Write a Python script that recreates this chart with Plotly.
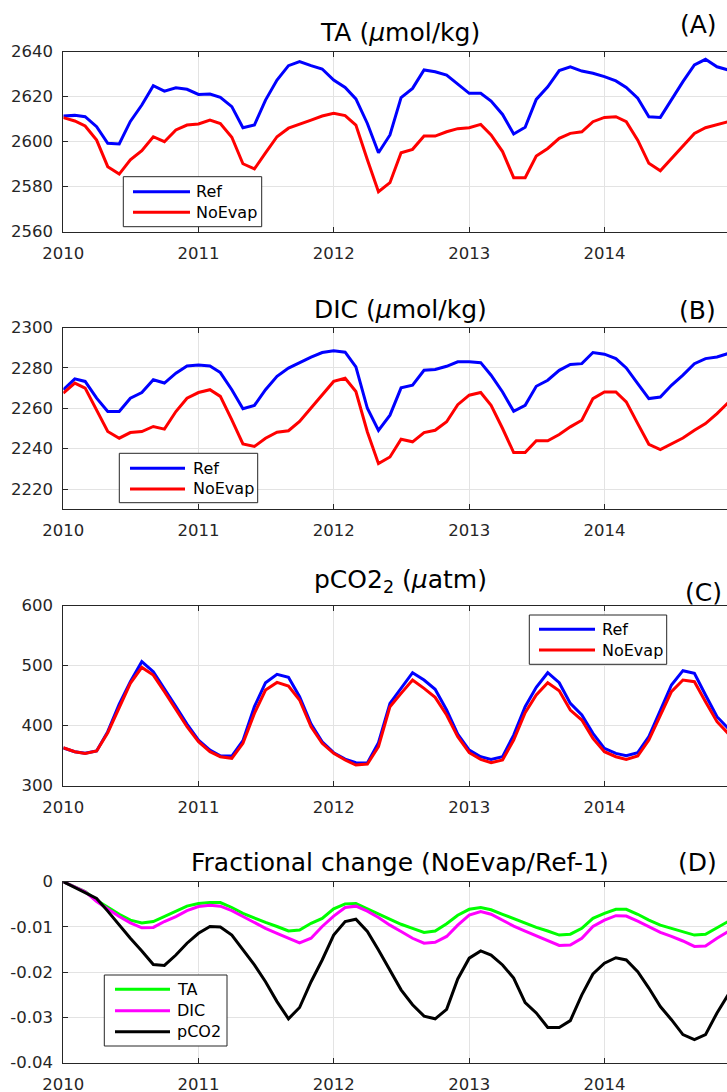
import pandas as pd
import plotly.graph_objects as go

W, H = 727, 1092

# Monthly time axis, Jan 2010 onwards
months = pd.date_range("2010-01-01", periods=60, freq="MS")
tick_labels = ["2010", "2011", "2012", "2013", "2014"]
tick_dates = [f"{y}-01-01" for y in tick_labels]

# (A) total alkalinity, umol/kg
ta_ref = [2611.4, 2611.7, 2611.1, 2606.7, 2599.3, 2599.0, 2609.0, 2616.3, 2624.9, 2622.5,
          2624.0, 2623.3, 2621.0, 2621.2, 2619.7, 2615.6, 2606.2, 2607.4, 2618.5, 2627.4,
          2633.8, 2635.6, 2633.8, 2632.3, 2627.4, 2624.1, 2619.0, 2608.1, 2595.1, 2603.0,
          2619.6, 2623.7, 2631.9, 2631.1, 2629.6, 2625.5, 2621.5, 2621.5, 2618.1, 2612.1,
          2603.4, 2606.4, 2618.8, 2624.4, 2631.6, 2633.3, 2631.4, 2630.4, 2628.9, 2627.0,
          2624.1, 2619.3, 2611.1, 2610.8, 2618.8, 2626.7, 2634.1, 2636.6, 2633.3, 2631.9]
ta_noevap = [2610.7, 2609.2, 2607.0, 2600.7, 2588.9, 2585.6, 2591.9, 2596.0, 2602.2, 2600.0,
             2605.2, 2607.4, 2607.9, 2609.6, 2608.1, 2602.0, 2590.2, 2587.9, 2595.0, 2602.2,
             2606.0, 2607.9, 2609.6, 2611.4, 2612.6, 2611.6, 2607.4, 2592.0, 2577.8, 2581.8,
             2595.1, 2596.6, 2602.5, 2602.5, 2604.4, 2605.8, 2606.2, 2607.7, 2603.0, 2595.6,
             2584.0, 2584.0, 2593.6, 2597.0, 2601.5, 2603.7, 2604.4, 2608.9, 2610.8, 2611.1,
             2608.9, 2600.7, 2590.4, 2587.1, 2592.6, 2598.5, 2603.7, 2606.2, 2607.4, 2608.9]

# (B) dissolved inorganic carbon, umol/kg
dic_ref = [2269.2, 2274.6, 2273.3, 2265.0, 2258.4, 2258.4, 2265.0, 2267.8, 2274.1, 2272.5,
           2277.4, 2281.0, 2281.4, 2281.0, 2277.7, 2269.2, 2259.8, 2261.4, 2269.2, 2275.8,
           2279.9, 2282.7, 2285.3, 2287.6, 2288.5, 2287.8, 2280.5, 2260.0, 2249.1, 2256.6,
           2270.1, 2271.4, 2278.8, 2279.2, 2280.8, 2283.0, 2283.0, 2282.6, 2276.4, 2268.1,
           2258.5, 2261.5, 2270.9, 2273.9, 2278.8, 2281.7, 2282.1, 2287.6, 2286.8, 2284.6,
           2280.0, 2272.2, 2264.8, 2265.6, 2271.4, 2276.4, 2282.1, 2284.6, 2285.4, 2287.1]
dic_noevap = [2267.5, 2272.5, 2270.0, 2259.3, 2248.5, 2245.2, 2248.0, 2248.5, 2251.0, 2249.7,
              2258.4, 2265.0, 2267.8, 2269.2, 2265.9, 2254.3, 2242.4, 2241.1, 2245.2, 2248.2,
              2248.9, 2253.5, 2260.1, 2266.7, 2273.3, 2274.9, 2268.3, 2248.3, 2232.6, 2235.9,
              2244.7, 2243.4, 2248.0, 2249.1, 2253.3, 2261.8, 2266.5, 2267.8, 2261.5, 2250.0,
              2238.1, 2238.1, 2243.9, 2243.9, 2247.0, 2250.8, 2254.1, 2264.8, 2268.1, 2268.1,
              2263.2, 2252.4, 2242.2, 2239.6, 2242.5, 2245.3, 2249.1, 2252.4, 2257.4, 2262.8]

# (C) pCO2, uatm
pco2_ref = [363.0, 356.7, 354.0, 358.0, 390.0, 436.0, 473.3, 506.7, 490.0, 462.2,
            431.7, 402.8, 376.0, 359.4, 350.0, 349.4, 375.0, 431.7, 471.7, 485.6,
            480.6, 448.3, 402.8, 373.3, 355.0, 344.4, 338.3, 338.0, 371.7, 437.2,
            462.2, 488.3, 476.1, 460.6, 426.1, 386.1, 359.4, 348.3, 343.9, 348.3,
            384.4, 431.7, 463.9, 488.3, 471.7, 437.2, 417.8, 387.2, 362.2, 353.9,
            350.0, 355.0, 381.7, 426.1, 467.8, 491.7, 487.2, 451.1, 415.0, 395.6]
pco2_noevap = [363.3, 356.7, 353.9, 357.8, 388.3, 431.7, 470.6, 497.2, 484.4, 456.7,
               426.1, 398.3, 373.3, 356.7, 348.3, 345.6, 370.6, 420.6, 459.4, 472.2,
               466.1, 442.8, 398.3, 370.6, 353.9, 342.8, 334.4, 336.0, 365.0, 431.7,
               453.9, 476.1, 462.2, 447.2, 417.8, 381.7, 355.0, 343.9, 338.3, 342.8,
               376.1, 421.7, 451.1, 471.7, 458.3, 426.1, 409.4, 378.9, 356.7, 348.3,
               343.9, 349.4, 376.1, 417.8, 456.7, 476.1, 473.3, 440.0, 406.7, 387.2]

# (D) fractional change NoEvap/Ref - 1
frac_ta = [0.0, -0.0011, -0.0022, -0.0041, -0.0057, -0.0072, -0.0085, -0.0091, -0.0088, -0.0077,
           -0.0066, -0.0054, -0.0048, -0.0046, -0.0046, -0.0057, -0.0070, -0.0081, -0.0090, -0.0099,
           -0.0109, -0.0107, -0.0092, -0.0081, -0.0060, -0.0049, -0.0048, -0.0060, -0.0071, -0.0083,
           -0.0094, -0.0103, -0.0112, -0.0109, -0.0093, -0.0074, -0.0061, -0.0057, -0.0062, -0.0072,
           -0.0082, -0.0092, -0.0101, -0.0109, -0.0118, -0.0116, -0.0103, -0.0081, -0.0070, -0.0061,
           -0.0061, -0.0072, -0.0085, -0.0096, -0.0103, -0.0110, -0.0118, -0.0116, -0.0101, -0.0088]
frac_dic = [0.0, -0.0011, -0.0022, -0.0044, -0.0061, -0.0077, -0.0091, -0.0102, -0.0101, -0.0088,
            -0.0077, -0.0064, -0.0055, -0.0052, -0.0054, -0.0064, -0.0077, -0.0091, -0.0103, -0.0114,
            -0.0125, -0.0135, -0.0125, -0.0099, -0.0076, -0.0057, -0.0054, -0.0065, -0.0079, -0.0096,
            -0.0110, -0.0125, -0.0136, -0.0134, -0.0121, -0.0096, -0.0074, -0.0066, -0.0072, -0.0085,
            -0.0098, -0.0109, -0.0120, -0.0130, -0.0141, -0.0140, -0.0125, -0.0099, -0.0085, -0.0075,
            -0.0076, -0.0087, -0.0099, -0.0112, -0.0121, -0.0131, -0.0143, -0.0142, -0.0125, -0.0110]
frac_pco2 = [0.0, -0.0013, -0.0024, -0.0037, -0.0065, -0.0096, -0.0125, -0.0153, -0.0183, -0.0185,
             -0.0162, -0.0136, -0.0114, -0.0099, -0.0100, -0.0118, -0.0151, -0.0184, -0.0221, -0.0265,
             -0.0303, -0.0278, -0.0221, -0.0173, -0.0118, -0.0088, -0.0083, -0.0110, -0.0151, -0.0195,
             -0.0239, -0.0272, -0.0297, -0.0303, -0.0282, -0.0215, -0.0169, -0.0153, -0.0162, -0.0184,
             -0.0213, -0.0267, -0.0290, -0.0322, -0.0322, -0.0307, -0.0250, -0.0204, -0.0180, -0.0168,
             -0.0173, -0.0199, -0.0235, -0.0276, -0.0305, -0.0338, -0.0349, -0.0338, -0.0290, -0.0250]

# y ticks per panel
ta_ticks = [2560, 2580, 2600, 2620, 2640]
dic_ticks = [2220, 2240, 2260, 2280, 2300]
pco2_ticks = [300, 400, 500, 600]
frac_ticks = [-0.04, -0.03, -0.02, -0.01, 0]
frac_tick_text = ["-0.04", "-0.03", "-0.02", "-0.01", "0"]

BLUE, RED = "#0000ff", "#ff0000"
GREEN, MAGENTA, BLACK = "#00ff00", "#ff00ff", "#000000"
AXC = "#262626"
GRID = "#e3e3e3"
FONT = "DejaVu Sans"
TICK_SIZE = 16.5


def fx(px):
    return px / W


def fy(py):
    return 1 - py / H


# panel frames in pixels: (top, bottom)
panels = [(51.7, 231.7), (327.5, 509.3), (605.7, 785.7), (881.7, 1062.7)]
x_left = 63.3

fig = go.Figure()

series = [
    (1, [(ta_ref, BLUE, "Ref"), (ta_noevap, RED, "NoEvap")]),
    (2, [(dic_ref, BLUE, "Ref"), (dic_noevap, RED, "NoEvap")]),
    (3, [(pco2_ref, BLUE, "Ref"), (pco2_noevap, RED, "NoEvap")]),
    (4, [(frac_ta, GREEN, "TA"), (frac_dic, MAGENTA, "DIC"), (frac_pco2, BLACK, "pCO2")]),
]
for k, lines in series:
    suffix = "" if k == 1 else str(k)
    for vals, col, name in lines:
        fig.add_trace(go.Scatter(
            x=months, y=vals, mode="lines", name=name,
            line=dict(color=col, width=3),
            xaxis="x" + suffix, yaxis="y" + suffix, showlegend=False,
        ))

xcommon = dict(
    type="date", range=["2010-01-01", "2014-11-28"],
    domain=[fx(x_left), 1],
    tickvals=tick_dates, ticktext=tick_labels,
    showgrid=True, gridcolor=GRID, gridwidth=1,
    showline=True, linecolor=AXC, linewidth=1, mirror="ticks",
    ticks="inside", ticklen=5, tickcolor=AXC, tickwidth=1,
    tickfont=dict(family=FONT, size=TICK_SIZE, color=AXC),
    ticklabelstandoff=6,
    zeroline=False, fixedrange=True, automargin=False,
)
ycommon = dict(
    showgrid=True, gridcolor=GRID, gridwidth=1,
    showline=True, linecolor=AXC, linewidth=1, mirror=False,
    ticks="inside", ticklen=5, tickcolor=AXC, tickwidth=1,
    tickfont=dict(family=FONT, size=TICK_SIZE, color=AXC),
    ticklabelstandoff=6,
    zeroline=False, fixedrange=True, automargin=False,
)
yspecs = [
    dict(range=[2560, 2640], tickvals=ta_ticks, ticktext=[str(v) for v in ta_ticks]),
    dict(range=[2210, 2300], tickvals=dic_ticks, ticktext=[str(v) for v in dic_ticks]),
    dict(range=[300, 600], tickvals=pco2_ticks, ticktext=[str(v) for v in pco2_ticks]),
    dict(range=[-0.04, 0], tickvals=frac_ticks, ticktext=frac_tick_text),
]

layout_axes = {}
for i, ((top, bot), ys) in enumerate(zip(panels, yspecs), start=1):
    suffix = "" if i == 1 else str(i)
    layout_axes["xaxis" + suffix] = dict(xcommon, anchor="y" + suffix)
    layout_axes["yaxis" + suffix] = dict(ycommon, anchor="x" + suffix,
                                         domain=[fy(bot), fy(top)], **ys)

annotations = []
shapes = []

# panel titles and letters
titles = [
    ("TA (<i>μ</i>mol/kg)", 32.0, "(A)", 719, 24.0),
    ("DIC (<i>μ</i>mol/kg)", 309.5, "(B)", 718, 310.0),
    ("pCO2<sub>2</sub> (<i>μ</i>atm)", 581.0, "(C)", 724, 592.0),
    ("Fractional change (NoEvap/Ref-1)", 862.5, "(D)", 719, 862.0),
]
for text, ty, letter, lx, ly in titles:
    annotations.append(dict(
        text=text, xref="paper", yref="paper", x=fx(400), y=fy(ty),
        xanchor="center", yanchor="middle", showarrow=False,
        font=dict(family=FONT, size=25, color="#000000"),
    ))
    annotations.append(dict(
        text=letter, xref="paper", yref="paper", x=fx(lx), y=fy(ly),
        xanchor="right", yanchor="middle", showarrow=False,
        font=dict(family=FONT, size=25, color="#000000"),
    ))

# boxed legends: (box left, top, right, bottom), line x0, x1, text x, entries (y, colour, label)
legends = [
    ((123.3, 176.7, 261.7, 226.7), 133, 190, 194,
     [(191.7, BLUE, "Ref"), (212.3, RED, "NoEvap")]),
    ((119.3, 453.3, 257.7, 502.7), 130, 185, 190.7,
     [(468.3, BLUE, "Ref"), (489.0, RED, "NoEvap")]),
    ((529.3, 615.0, 666.7, 664.3), 539, 595, 600,
     [(629.3, BLUE, "Ref"), (650.0, RED, "NoEvap")]),
    ((104.3, 975.0, 227.0, 1046.0), 115, 170, 175,
     [(989.3, GREEN, "TA"), (1010.7, MAGENTA, "DIC"), (1031.7, BLACK, "pCO2")]),
]
for (bx0, by0, bx1, by1), lx0, lx1, tx, entries in legends:
    shapes.append(dict(
        type="rect", xref="paper", yref="paper", layer="above",
        x0=fx(bx0), x1=fx(bx1), y0=fy(by1), y1=fy(by0),
        line=dict(color=AXC, width=1), fillcolor="#ffffff",
    ))
    for ey, col, label in entries:
        shapes.append(dict(
            type="line", xref="paper", yref="paper", layer="above",
            x0=fx(lx0), x1=fx(lx1), y0=fy(ey), y1=fy(ey),
            line=dict(color=col, width=3),
        ))
        annotations.append(dict(
            text=label, xref="paper", yref="paper", x=fx(tx), y=fy(ey),
            xanchor="left", yanchor="middle", showarrow=False,
            font=dict(family=FONT, size=16, color="#000000"),
        ))

fig.update_layout(
    width=W, height=H,
    margin=dict(l=0, r=0, t=0, b=0, autoexpand=False),
    paper_bgcolor="#ffffff", plot_bgcolor="#ffffff",
    showlegend=False,
    annotations=annotations, shapes=shapes,
    **layout_axes,
)

fig.write_html("out.html")
